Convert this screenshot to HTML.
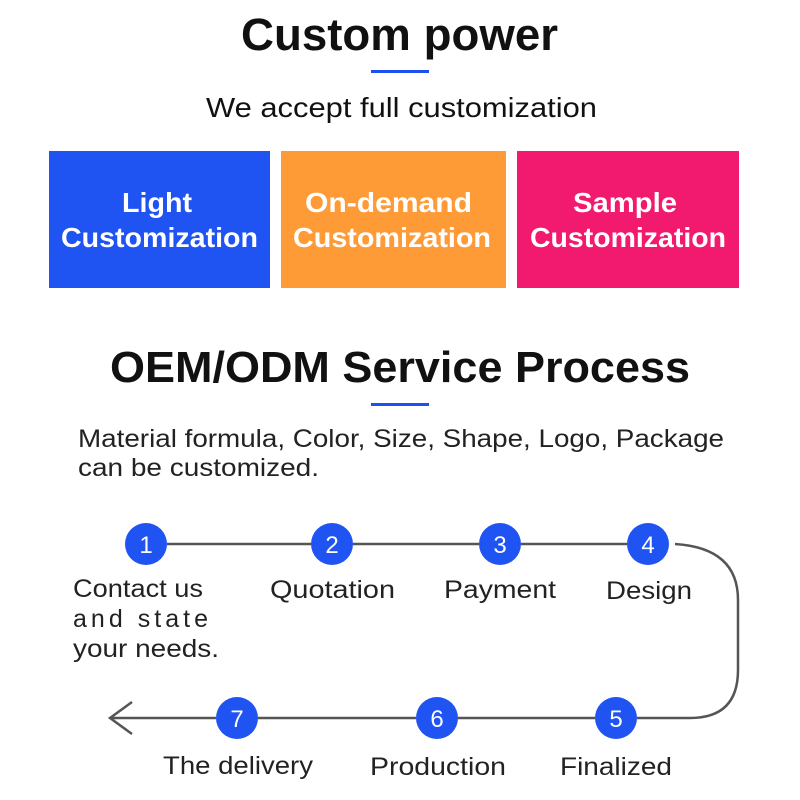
<!DOCTYPE html>
<html><head><style>
body{margin:0;width:800px;height:800px;background:#fff;overflow:hidden}
svg{display:block}
text{font-family:"Liberation Sans",sans-serif}
</style></head><body>
<svg width="800" height="800" viewBox="0 0 800 800">
<text x="241" y="50" font-size="45" font-weight="bold" fill="#111" textLength="317" lengthAdjust="spacingAndGlyphs">Custom power</text>
<rect x="371" y="70" width="58" height="3" fill="#1e50f0"/>
<text x="206" y="117" font-size="28" fill="#111" textLength="391" lengthAdjust="spacingAndGlyphs">We accept full customization</text>
<rect x="49" y="151" width="221" height="137" fill="#1f53f2"/>
<rect x="281" y="151" width="225" height="137" fill="#ff9b37"/>
<rect x="517" y="151" width="222" height="137" fill="#f21a6e"/>
<g font-size="28" font-weight="bold" fill="#fff">
<text x="122" y="212" textLength="70" lengthAdjust="spacingAndGlyphs">Light</text><text x="61" y="247" textLength="197" lengthAdjust="spacingAndGlyphs">Customization</text>
<text x="305" y="212" textLength="167" lengthAdjust="spacingAndGlyphs">On-demand</text><text x="293" y="247" textLength="198" lengthAdjust="spacingAndGlyphs">Customization</text>
<text x="573" y="212" textLength="104" lengthAdjust="spacingAndGlyphs">Sample</text><text x="530" y="247" textLength="196" lengthAdjust="spacingAndGlyphs">Customization</text>
</g>
<text x="110" y="382" font-size="44" font-weight="bold" fill="#111" textLength="580" lengthAdjust="spacingAndGlyphs">OEM/ODM Service Process</text>
<rect x="371" y="403" width="58" height="3" fill="#1e50f0"/>
<text x="78" y="447" font-size="25" fill="#222" textLength="646" lengthAdjust="spacingAndGlyphs">Material formula, Color, Size, Shape, Logo, Package</text>
<text x="78" y="476" font-size="25" fill="#222" textLength="241" lengthAdjust="spacingAndGlyphs">can be customized.</text>
<g stroke="#555" stroke-width="2.5" fill="none">
<line x1="167" y1="544" x2="311" y2="544"/>
<line x1="353" y1="544" x2="479" y2="544"/>
<line x1="521" y1="544" x2="627" y2="544"/>
<path d="M675 544 Q738 548 738 600 L738 670 Q738 718 690 718 L637 718"/>
<line x1="595" y1="718" x2="458" y2="718"/>
<line x1="416" y1="718" x2="258" y2="718"/>
<line x1="216" y1="718" x2="110" y2="718"/>
<path d="M132 702 L110 718 L132 734"/>
</g>
<g fill="#1f53f2">
<circle cx="146" cy="544" r="21"/><circle cx="332" cy="544" r="21"/>
<circle cx="500" cy="544" r="21"/><circle cx="648" cy="544" r="21"/>
<circle cx="616" cy="718" r="21"/><circle cx="437" cy="718" r="21"/>
<circle cx="237" cy="718" r="21"/>
</g>
<g fill="#fff" font-size="24" text-anchor="middle">
<text x="146" y="553">1</text><text x="332" y="553">2</text><text x="500" y="553">3</text>
<text x="648" y="553">4</text><text x="616" y="727">5</text><text x="437" y="727">6</text><text x="237" y="727">7</text>
</g>
<g fill="#222" font-size="25">
<text x="73" y="597" textLength="130" lengthAdjust="spacingAndGlyphs">Contact us</text>
<text x="73" y="627" textLength="135" lengthAdjust="spacing">and state</text>
<text x="73" y="657" textLength="146" lengthAdjust="spacingAndGlyphs">your needs.</text>
<text x="270" y="598" textLength="125" lengthAdjust="spacingAndGlyphs">Quotation</text>
<text x="444" y="598" textLength="112" lengthAdjust="spacingAndGlyphs">Payment</text>
<text x="606" y="599" textLength="86" lengthAdjust="spacingAndGlyphs">Design</text>
<text x="163" y="774" textLength="150" lengthAdjust="spacingAndGlyphs">The delivery</text>
<text x="370" y="775" textLength="136" lengthAdjust="spacingAndGlyphs">Production</text>
<text x="560" y="775" textLength="112" lengthAdjust="spacingAndGlyphs">Finalized</text>
</g>
</svg>
</body></html>
